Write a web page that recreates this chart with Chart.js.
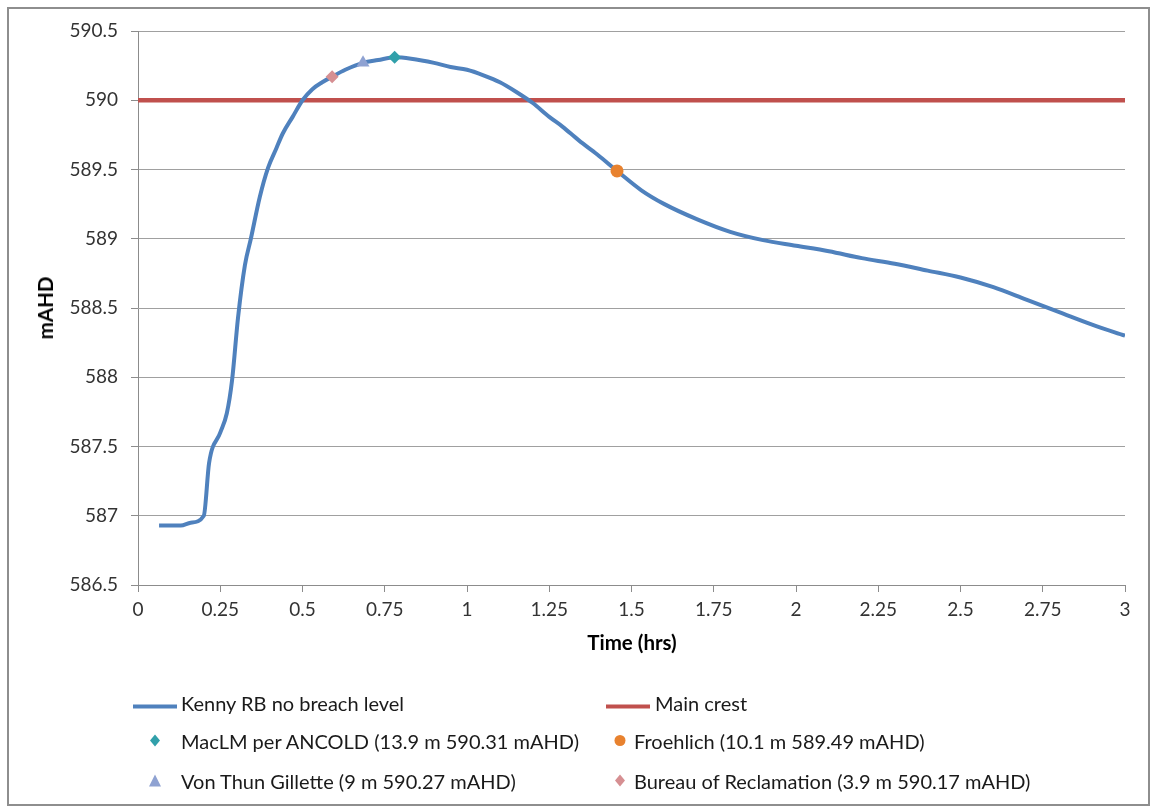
<!DOCTYPE html>
<html>
<head>
<meta charset="utf-8">
<script src="https://cdn.jsdelivr.net/npm/chart.js@4"></script>
<style>
  html, body { margin: 0; padding: 0; background: #fff; }
  #wrap { position: relative; width: 1155px; height: 810px; overflow: hidden; font-family: Lato, "Open Sans", sans-serif; }
  #frame { position: absolute; left: 7px; top: 7px; width: 1143px; height: 799px; border: 2px solid #8e8e8e; box-sizing: border-box; pointer-events: none; }
  canvas { position: absolute; left: 0; top: 0; }
  .title { position: absolute; font-weight: bold; font-size: 20.5px; color: #000; white-space: nowrap; }
  #ytitle { left: 45px; top: 308px; transform: translate(-50%, -50%) rotate(-90deg); }
  #xtitle { left: 632px; top: 642px; transform: translate(-50%, -50%); }
  .leg { position: absolute; font-size: 20px; color: #1a1a1a; white-space: nowrap; transform: translateY(-50%); }
  .sym { position: absolute; transform: translate(-50%, -50%); }
</style>
</head>
<body>
<div id="wrap">
  <canvas id="c" width="1155" height="810"></canvas>
  <div class="title" id="ytitle">mAHD</div>
  <div class="title" id="xtitle">Time (hrs)</div>
  <div id="legend"></div>
  <div id="frame"></div>
</div>
<script>
// Reservoir level without breach (time in hours, level in mAHD)
const timeHrs = [0.064, 0.13, 0.16, 0.2, 0.216, 0.25, 0.27, 0.286, 0.304, 0.325, 0.343, 0.37, 0.395, 0.42, 0.44, 0.47, 0.5, 0.53, 0.56, 0.59, 0.63, 0.684, 0.73, 0.78, 0.83, 0.9, 0.95, 1.0, 1.05, 1.1, 1.15, 1.2, 1.25, 1.29, 1.34, 1.395, 1.456, 1.53, 1.6, 1.7, 1.8, 1.9, 2.0, 2.1, 2.2, 2.3, 2.4, 2.5, 2.6, 2.7, 2.8, 2.9, 3.0];
const levelMahd = [586.93, 586.93, 586.95, 587.0, 587.38, 587.6, 587.74, 587.98, 588.43, 588.81, 589.0, 589.3, 589.51, 589.65, 589.76, 589.88, 590.0, 590.08, 590.13, 590.17, 590.22, 590.27, 590.29, 590.31, 590.3, 590.27, 590.24, 590.22, 590.18, 590.13, 590.06, 589.98, 589.88, 589.81, 589.71, 589.61, 589.49, 589.35, 589.25, 589.14, 589.05, 588.99, 588.95, 588.91, 588.86, 588.82, 588.77, 588.72, 588.65, 588.56, 588.47, 588.38, 588.3];

// Main crest level across the whole time range
const crestTime = [0, 3];
const crestLevel = [590, 590];

// Peak estimates from breach methods: [time (hrs), level (mAHD)]
const macLmPoint = [0.78, 590.31];
const froehlichPoint = [1.456, 589.49];
const vonThunPoint = [0.684, 590.27];
const bureauPoint = [0.59, 590.17];

// Axis ranges and tick spacing
const xRange = [0, 3];
const xStep = 0.25;
const yRange = [586.5, 590.5];
const yStep = 0.5;

const seriesNames = [
  'Kenny RB no breach level',
  'Main crest',
  'MacLM per ANCOLD (13.9 m 590.31 mAHD)',
  'Froehlich (10.1 m 589.49 mAHD)',
  'Von Thun Gillette (9 m 590.27 mAHD)',
  'Bureau of Reclamation (3.9 m 590.17 mAHD)'
];

const colors = {
  level: '#4f81bd',
  crest: '#c0504d',
  maclm: '#31a0aa',
  froehlich: '#e8822f',
  vonthun: '#8fa2d2',
  bureau: '#d68f92'
};

const toXY = (xs, ys) => xs.map((x, i) => ({ x: x, y: ys[i] }));
const pt = p => [{ x: p[0], y: p[1] }];
const plainNumber = v => String(Number(v.toFixed(2)));

const chart = new Chart(document.getElementById('c'), {
  type: 'scatter',
  data: {
    datasets: [
      { label: seriesNames[0], data: toXY(timeHrs, levelMahd), showLine: true, borderColor: colors.level, borderWidth: 4, pointRadius: 0, cubicInterpolationMode: 'monotone', order: 5 },
      { label: seriesNames[1], data: toXY(crestTime, crestLevel), showLine: true, borderColor: colors.crest, borderWidth: 4.5, pointRadius: 0, order: 6 },
      { label: seriesNames[2], data: pt(macLmPoint), pointStyle: 'rectRot', pointRadius: 6.5, backgroundColor: colors.maclm, borderColor: colors.maclm, borderWidth: 0, order: 1 },
      { label: seriesNames[3], data: pt(froehlichPoint), pointStyle: 'circle', pointRadius: 6.5, backgroundColor: colors.froehlich, borderColor: colors.froehlich, borderWidth: 0, order: 1 },
      { label: seriesNames[4], data: pt(vonThunPoint), pointStyle: 'triangle', pointRadius: 7.5, backgroundColor: colors.vonthun, borderColor: colors.vonthun, borderWidth: 0, order: 1 },
      { label: seriesNames[5], data: pt(bureauPoint), pointStyle: 'rectRot', pointRadius: 6.5, backgroundColor: colors.bureau, borderColor: colors.bureau, borderWidth: 0, order: 1 }
    ]
  },
  options: {
    responsive: false,
    animation: false,
    devicePixelRatio: 1,
    layout: { padding: { left: 0, top: 31, right: 30, bottom: 0 } },
    plugins: { legend: { display: false }, tooltip: { enabled: false } },
    scales: {
      x: {
        type: 'linear',
        min: xRange[0], max: xRange[1],
        ticks: { stepSize: xStep, color: '#333', font: { family: 'Lato', size: 19 }, padding: 6, maxRotation: 0, autoSkip: false, callback: plainNumber },
        grid: { drawOnChartArea: false, drawTicks: true, tickLength: 7, color: '#8c8c8c' },
        border: { color: '#8c8c8c', width: 1 },
        afterFit: s => { s.height = 225; }
      },
      y: {
        type: 'linear',
        min: yRange[0], max: yRange[1],
        ticks: { stepSize: yStep, color: '#333', font: { family: 'Lato', size: 19 }, padding: 13, callback: plainNumber },
        grid: { color: '#a0a0a0', lineWidth: 1, drawTicks: true, tickLength: 7, tickColor: '#8c8c8c' },
        border: { color: '#8c8c8c', width: 1 },
        afterFit: s => { s.width = 138; }
      }
    }
  }
});

// Legend: two columns, line series on the first row, point markers below
function symbolSvg(kind, color) {
  if (kind === 'line') return '<svg width="44" height="6"><line x1="0" y1="3" x2="44" y2="3" stroke="' + color + '" stroke-width="4"/></svg>';
  if (kind === 'diamond') return '<svg width="14" height="14"><polygon points="7,1 12,7 7,13 2,7" fill="' + color + '"/></svg>';
  if (kind === 'circle') return '<svg width="14" height="14"><circle cx="7" cy="7" r="5.5" fill="' + color + '"/></svg>';
  return '<svg width="14" height="14"><polygon points="7,1 13,13 1,13" fill="' + color + '"/></svg>';
}
const legendItems = [
  { kind: 'line', color: colors.level, text: seriesNames[0], sx: 155, tx: 181, y: 703 },
  { kind: 'line', color: colors.crest, text: seriesNames[1], sx: 628, tx: 655, y: 703 },
  { kind: 'diamond', color: colors.maclm, text: seriesNames[2], sx: 155, tx: 181, y: 741 },
  { kind: 'circle', color: colors.froehlich, text: seriesNames[3], sx: 620, tx: 634, y: 741 },
  { kind: 'triangle', color: colors.vonthun, text: seriesNames[4], sx: 155, tx: 181, y: 781 },
  { kind: 'diamond', color: colors.bureau, text: seriesNames[5], sx: 620, tx: 634, y: 781 }
];
const legend = document.getElementById('legend');
legendItems.forEach(it => {
  const s = document.createElement('div');
  s.className = 'sym';
  s.style.left = it.sx + 'px';
  s.style.top = it.y + 'px';
  s.innerHTML = symbolSvg(it.kind, it.color);
  legend.appendChild(s);
  const t = document.createElement('div');
  t.className = 'leg';
  t.style.left = it.tx + 'px';
  t.style.top = it.y + 'px';
  t.textContent = it.text;
  legend.appendChild(t);
});
</script>
</body>
</html>
